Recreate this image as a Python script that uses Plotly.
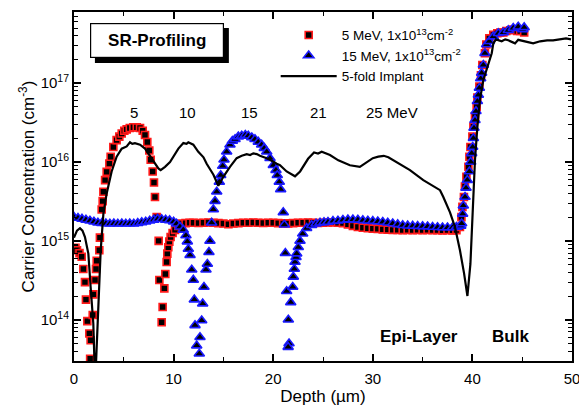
import plotly.graph_objects as go

# ---- 5 MeV implant, 1x10^13 cm^-2 (SRP data) ----
depth_5mev = [0.15, 0.3, 0.55, 0.77, 0.94, 1.1, 1.2, 1.34, 1.54, 1.67, 1.62,
              1.88, 1.94, 2.11, 2.21, 2.28, 2.54, 2.6, 2.78, 2.88, 2.95, 3.12,
              3.28, 3.55, 3.68, 3.95, 4.28, 4.55, 4.79, 5.05, 5.29, 5.6, 5.96,
              6.3, 6.63, 6.9, 7.13, 7.36, 7.56, 7.7, 7.9, 8.03, 8.13, 8.3, 8.5,
              8.57, 8.8, 8.9, 9.07, 9.17, 9.3, 9.37, 9.47, 9.57, 9.7, 9.9,
              10.14, 10.48, 10.82,
              11.2, 11.6, 12.0, 12.5, 13.0, 13.5, 14.0, 14.5, 15.0, 15.5, 16.0,
              16.5, 17.0, 17.5, 18.0, 18.5, 19.0, 19.5, 20.0, 20.5, 21.0, 21.5,
              22.0, 22.5, 23.0, 23.5, 24.0, 24.5, 25.0, 25.5, 26.0, 26.5, 27.0,
              27.5, 28.0, 28.5, 29.0, 29.5, 30.0, 30.5, 31.0, 31.5, 32.0, 32.5,
              33.0, 33.5, 34.0, 34.5, 35.0, 35.5, 36.0, 36.5, 37.0, 37.5, 38.0,
              38.4, 38.75, 38.9, 39.0, 39.15, 39.25, 39.4, 39.6, 39.7, 39.8,
              40.0, 40.1, 40.26, 40.43, 40.5, 40.7, 40.86, 41.0, 41.26, 41.4,
              41.7, 42.1, 42.5, 42.8, 43.1, 43.4, 43.8, 44.1, 44.5, 44.8, 45.2]
conc_5mev = [8.2e14, 7.6e14, 7.0e14, 6.3e14, 4.4e14, 3.0e14, 1.8e14, 9.6e13,
             6.7e13, 5.5e13, 3.2e13, 1.15e14, 2.1e14, 3.2e14, 4.4e14, 5.6e14,
             7.6e14, 1.1e15, 2.5e15, 3.2e15, 4.2e15, 5.9e15, 7.5e15, 9.6e15,
             1.17e16, 1.55e16, 1.9e16, 2.1e16, 2.3e16, 2.5e16, 2.6e16, 2.7e16,
             2.76e16, 2.75e16, 2.7e16, 2.5e16, 2.2e16, 1.8e16, 1.4e16, 1.07e16,
             7.6e15, 5.5e15, 3.6e15, 2.0e15, 1.0e15, 3.2e14, 9.3e13, 1.45e14,
             2.5e14, 3.8e14, 5.4e14, 6.9e14, 8.3e14, 9.8e14, 1.12e15, 1.26e15,
             1.38e15, 1.55e15, 1.66e15,
             1.68e15, 1.7e15, 1.7e15, 1.69e15, 1.7e15, 1.71e15, 1.7e15, 1.68e15,
             1.66e15, 1.63e15, 1.66e15, 1.68e15, 1.7e15, 1.7e15, 1.71e15,
             1.7e15, 1.69e15, 1.7e15, 1.7e15, 1.68e15, 1.67e15, 1.67e15, 1.68e15,
             1.7e15, 1.7e15, 1.71e15, 1.7e15, 1.69e15, 1.7e15, 1.71e15, 1.72e15,
             1.7e15, 1.68e15, 1.62e15, 1.55e15, 1.5e15, 1.47e15, 1.45e15,
             1.43e15, 1.42e15, 1.4e15, 1.39e15, 1.38e15, 1.38e15, 1.37e15,
             1.38e15, 1.37e15, 1.38e15, 1.37e15, 1.38e15, 1.37e15, 1.37e15,
             1.36e15, 1.37e15, 1.36e15, 1.37e15, 1.5e15, 2.0e15, 2.7e15, 3.6e15,
             4.9e15, 6.5e15, 8.7e15, 1.17e16, 1.55e16, 2.1e16, 2.8e16, 3.8e16,
             5.0e16, 6.6e16, 9.1e16, 1.26e17, 1.7e17, 2.4e17, 3.1e17, 3.7e17,
             4.1e17, 4.3e17, 4.4e17, 4.4e17, 4.6e17, 4.7e17, 4.8e17, 4.6e17,
             4.6e17, 4.4e17]

# ---- 15 MeV implant, 1x10^13 cm^-2 (SRP data) ----
depth_15mev = [0.0, 0.4, 0.8, 1.2, 1.6, 2.0, 2.4, 2.8, 3.2, 3.6, 4.0, 4.4, 4.8,
               5.2, 5.6, 6.0, 6.4, 6.8, 7.2, 7.6, 8.0, 8.4, 8.8, 9.2, 9.6, 10.0,
               10.3, 10.64, 10.97, 11.24, 11.38, 11.48, 11.65, 11.82, 11.98,
               12.08, 12.15, 12.32, 12.58, 12.65, 12.82, 12.92, 13.05, 13.25,
               13.39, 13.55, 13.65, 13.82, 13.99, 14.16, 14.33, 14.59, 14.73,
               14.93, 15.06, 15.33, 15.66, 15.9, 16.17, 16.5, 16.84, 17.2, 17.5,
               17.85, 18.17, 18.5, 18.84, 19.1, 19.35, 19.68, 20.01, 20.28, 20.41,
               20.61, 20.75, 21.01, 21.12, 21.22, 21.35, 21.52, 21.59, 21.5,
               21.76, 21.96, 22.02, 22.12, 22.19, 22.29, 22.36, 22.52, 22.69,
               22.96, 23.36, 23.86, 24.3, 24.7, 25.1, 25.5, 26.0, 26.5, 27.0,
               27.5, 28.0, 28.5, 29.0, 29.5, 30.0, 30.5, 31.0, 31.5, 32.0, 32.5,
               33.0, 33.5, 34.0, 34.5, 35.0, 35.5, 36.0, 36.5, 37.0, 37.5, 38.0,
               38.4, 38.83, 38.92, 39.02, 39.09, 39.26, 39.36, 39.49, 39.7, 39.83,
               39.93, 40.03, 40.1, 40.16, 40.26, 40.36, 40.5, 40.6, 40.7, 40.83,
               40.93, 41.1, 41.26, 41.43, 41.7, 42.1, 42.6, 43.1, 43.6, 44.1,
               44.6, 45.05, 45.2]
conc_15mev = [2.0e15, 1.95e15, 1.9e15, 1.85e15, 1.8e15, 1.75e15, 1.7e15,
              1.68e15, 1.66e15, 1.65e15, 1.66e15, 1.65e15, 1.66e15, 1.65e15,
              1.66e15, 1.65e15, 1.68e15, 1.72e15, 1.75e15, 1.8e15, 1.85e15,
              1.9e15, 1.88e15, 1.85e15, 1.82e15, 1.75e15, 1.65e15, 1.51e15,
              1.38e15, 1.17e15, 9.8e14, 7.9e14, 6.6e14, 4.3e14, 3.2e14, 1.8e14,
              8.5e13, 4.7e13, 3.7e13, 6.0e13, 9.8e13, 1.6e14, 2.6e14, 4.3e14,
              5.1e14, 7.2e14, 1.0e15, 1.7e15, 2.5e15, 3.2e15, 4.2e15, 5.6e15,
              6.8e15, 8.9e15, 1.07e16, 1.35e16, 1.66e16, 1.85e16, 1.95e16,
              2.1e16, 2.15e16, 2.2e16, 2.15e16, 2.05e16, 1.95e16, 1.8e16,
              1.66e16, 1.5e16, 1.35e16, 1.12e16, 9.1e15, 7.9e15, 6.8e15, 5.6e15,
              4.5e15, 2.3e15, 1.6e15, 7.0e14, 2.3e14, 1.0e14, 5.0e13, 4.5e13,
              1.66e14, 2.6e14, 3.5e14, 4.4e14, 5.4e14, 6.2e14, 6.9e14, 8.3e14,
              1.0e15, 1.23e15, 1.45e15, 1.58e15, 1.65e15, 1.7e15, 1.72e15,
              1.74e15, 1.78e15, 1.8e15, 1.84e15, 1.86e15, 1.86e15, 1.85e15,
              1.82e15, 1.8e15, 1.78e15, 1.76e15, 1.74e15, 1.7e15, 1.66e15,
              1.62e15, 1.58e15, 1.56e15, 1.55e15, 1.54e15, 1.53e15, 1.52e15,
              1.5e15, 1.49e15, 1.48e15, 1.48e15, 1.48e15, 1.5e15, 1.55e15,
              1.66e15, 2.2e15, 2.8e15, 3.6e15, 4.7e15, 5.9e15, 7.6e15, 1.0e16,
              1.29e16, 1.55e16, 2.0e16, 2.7e16, 3.4e16, 4.4e16, 5.9e16, 7.1e16,
              8.7e16, 1.15e17, 1.35e17, 1.7e17, 2.4e17, 3.1e17, 3.4e17, 3.9e17,
              4.3e17, 4.4e17, 4.7e17, 5.0e17, 5.2e17, 4.8e17, 5.1e17, 4.4e17]

# ---- 5-fold implant (simulated profile) ----
depth_implant = [0.0, 0.3, 0.6, 0.85, 1.1, 1.44, 1.67, 1.94, 2.12, 2.28, 2.44,
                 2.68, 2.95, 3.28, 3.78, 4.28, 4.79, 5.29, 5.62, 5.85, 6.12,
                 6.63, 7.13, 7.56, 8.03, 8.47, 8.7, 9.14, 9.64, 10.14, 10.48,
                 10.98, 11.3, 11.48, 11.98, 12.48, 13.0, 13.32, 14.0, 14.49,
                 14.99, 15.66, 16.33, 16.84, 17.34, 17.68, 18.0, 18.35, 18.67,
                 19.35, 19.68, 20.35, 20.68, 21.35, 22.19, 22.7, 23.36, 23.5,
                 24.1, 24.5, 24.87, 25.3, 25.7, 26.54, 27.7, 28.7, 29.4, 30.0,
                 30.55, 31.1, 31.56, 32.4, 33.73, 35.07, 36.07, 36.75, 37.08,
                 37.75, 38.25, 38.75, 39.16, 39.5, 39.8, 40.03, 40.26, 40.5,
                 40.76, 41.1, 41.6, 41.94, 42.1, 42.37, 42.94, 43.3, 43.6, 44.28,
                 44.6, 45.3, 46.1, 46.8, 47.5, 48.1, 48.8, 49.4, 49.9]
conc_implant = [1.1e15, 1.35e15, 1.45e15, 1.35e15, 1.12e15, 6.9e14, 2.6e14,
                8.9e13, 1.5e13, 5.0e13, 1.95e14, 7.6e14, 2.2e15, 4.0e15, 7.6e15,
                1.17e16, 1.48e16, 1.58e16, 1.78e16, 1.7e16, 1.74e16, 1.66e16,
                1.48e16, 1.23e16, 1.0e16, 8.3e15, 7.9e15, 8.7e15, 1.0e16,
                1.29e16, 1.48e16, 1.74e16, 1.7e16, 1.78e16, 1.66e16, 1.35e16,
                1.15e16, 9.5e15, 6.9e15, 5.0e15, 6.5e15, 8.7e15, 1.12e16, 1.2e16,
                1.26e16, 1.23e16, 1.29e16, 1.26e16, 1.2e16, 1.12e16, 1.07e16,
                9.5e15, 9.1e15, 7.6e15, 6.6e15, 7.6e15, 1.0e16, 1.1e16, 1.32e16,
                1.28e16, 1.35e16, 1.3e16, 1.23e16, 1.05e16, 9.1e15, 8.7e15,
                1.0e16, 1.12e16, 1.17e16, 1.2e16, 1.15e16, 1.0e16, 7.9e15,
                5.9e15, 4.9e15, 4.4e15, 3.6e15, 2.3e15, 1.5e15, 7.6e14, 3.9e14,
                2.0e14, 5.1e14, 2.5e15, 1.07e16, 2.8e16, 6.2e16, 1.1e17, 1.78e17,
                2.4e17, 3.2e17, 3.6e17, 3.4e17, 3.6e17, 3.5e17, 3.2e17, 3.55e17,
                3.4e17, 3.2e17, 3.4e17, 3.5e17, 3.5e17, 3.6e17, 3.7e17, 3.6e17]

# energy labels above the implant peaks
energy_labels = ["5", "10", "15", "21", "25 MeV"]
energy_label_depth = [6.0, 11.4, 17.6, 24.5, 31.9]

epi_bulk_boundary = 39.5

x_tick_vals = [0, 10, 20, 30, 40, 50]
x_minor_vals = [5, 15, 25, 35, 45]
y_tick_vals = [1e14, 1e15, 1e16, 1e17]
y_tick_text = ["10<sup>14</sup>", "10<sup>15</sup>", "10<sup>16</sup>", "10<sup>17</sup>"]
y_minor_vals = [m * 10 ** e for e in range(13, 18) for m in range(2, 10)]

FONT = "Arial, Liberation Sans, sans-serif"

fig = go.Figure()

fig.add_trace(go.Scatter(
    x=depth_5mev, y=conc_5mev, mode="markers",
    name="5 MeV, 1x10<sup>13</sup>cm<sup>-2</sup>",
    marker=dict(symbol="square", size=7, color="black",
                line=dict(color="#ff1a1a", width=1.6)),
))
fig.add_trace(go.Scatter(
    x=depth_15mev, y=conc_15mev, mode="markers",
    name="15 MeV, 1x10<sup>13</sup>cm<sup>-2</sup>",
    marker=dict(symbol="triangle-up", size=9, color="black",
                line=dict(color="#1a1aff", width=1.6)),
))
fig.add_trace(go.Scatter(
    x=depth_implant, y=conc_implant, mode="lines",
    name="5-fold Implant",
    line=dict(color="black", width=2.2),
))

# energy labels
for txt, d in zip(energy_labels, energy_label_depth):
    fig.add_annotation(x=d, y=16.63, xref="x", yref="y", text=txt,
                       showarrow=False, font=dict(family=FONT, size=15, color="black"))

# region labels
fig.add_annotation(x=34.6, y=13.79, text="<b>Epi-Layer</b>", showarrow=False,
                   font=dict(family=FONT, size=17, color="black"))
fig.add_annotation(x=43.8, y=13.79, text="<b>Bulk</b>", showarrow=False,
                   font=dict(family=FONT, size=17, color="black"))

# dashed boundary between epi-layer and bulk
fig.add_shape(type="line", x0=epi_bulk_boundary, x1=epi_bulk_boundary,
              y0=13.61, y1=14.16, xref="x", yref="y",
              line=dict(color="black", width=1, dash="dot"))

# "SR-Profiling" box: drop shadow shape + bordered annotation on top
fig.add_shape(type="rect", xref="paper", yref="paper",
              x0=0.042, x1=0.311, y0=0.854, y1=0.954,
              fillcolor="black", line=dict(width=0))
fig.add_annotation(xref="paper", yref="paper", x=0.1667, y=0.918,
                   xanchor="center", yanchor="middle",
                   text="<b>SR-Profiling</b>", showarrow=False,
                   width=128, height=29, borderpad=2, borderwidth=1.2,
                   bordercolor="black", bgcolor="white", align="center",
                   font=dict(family=FONT, size=17, color="black"))

axis_common = dict(
    showline=True, linecolor="black", linewidth=2, mirror="ticks",
    ticks="inside", ticklen=7, tickwidth=1.5, tickcolor="black",
    showgrid=False, zeroline=False, automargin=False,
    ticklabeloverflow="allow",
    tickfont=dict(family=FONT, size=15, color="black"),
)

fig.update_xaxes(
    range=[0, 50], tickmode="array", tickvals=x_tick_vals,
    ticklabelstandoff=3,
    title=dict(text="Depth (µm)", font=dict(family=FONT, size=17, color="black"),
               standoff=4),
    minor=dict(tickmode="array", tickvals=x_minor_vals, ticks="inside",
               ticklen=4, tickwidth=1.2, tickcolor="black"),
    **axis_common,
)
fig.update_yaxes(
    type="log", range=[13.477, 17.903], tickmode="array",
    tickvals=y_tick_vals, ticktext=y_tick_text,
    title=dict(text="Carrier Concentration (cm<sup>-3</sup>)",
               font=dict(family=FONT, size=17, color="black"), standoff=2),
    minor=dict(tickmode="array", tickvals=y_minor_vals, ticks="inside",
               ticklen=4, tickwidth=1.2, tickcolor="black"),
    **axis_common,
)

fig.update_layout(
    width=579, height=412, autosize=False,
    margin=dict(l=74, r=7, t=12, b=51, autoexpand=False),
    paper_bgcolor="white", plot_bgcolor="white",
    font=dict(family=FONT, size=14, color="black"),
    showlegend=True,
    legend=dict(x=0.405, y=0.978, xanchor="left", yanchor="top",
                bgcolor="rgba(0,0,0,0)", borderwidth=0,
                font=dict(family=FONT, size=13.5, color="black"),
                tracegroupgap=0, itemwidth=56),
)

fig.write_html("out.html")
